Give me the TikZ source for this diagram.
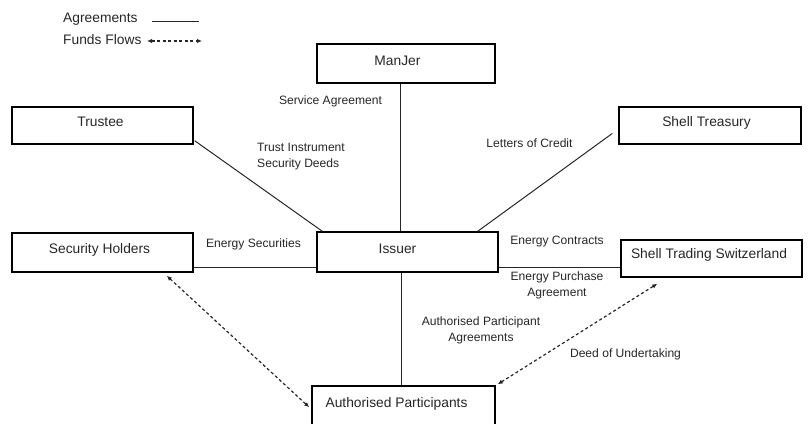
\documentclass[tikz,border=0pt]{standalone}
\usepackage{fontspec}
\setmainfont{Liberation Sans}
\usetikzlibrary{arrows.meta,calc}
\begin{document}
\begin{tikzpicture}[x=1pt,y=-1pt,
  box/.style={draw=black, line width=1.5pt, rectangle, inner sep=0pt},
  btext/.style={anchor=base, inner sep=0pt, font=\fontsize{13.8}{16}\selectfont, text=black!85},
  lbl/.style={anchor=base, inner sep=0pt, font=\fontsize{12.1}{16}\selectfont, text=black!85},
  agr/.style={draw=black!85, line width=1pt},
  flow/.style={draw=black!85, line width=1.2pt, dash pattern=on 3pt off 2.5pt,
    {Latex[length=5pt,width=4.5pt]}-{Latex[length=5pt,width=4.5pt]}}
]
\useasboundingbox (0,0) rectangle (808,423);
\clip (0,0) rectangle (808,423);

% legend
\node[btext, anchor=base west] (lgA) at (63,22.5) {Agreements};
\coordinate (lgA1) at (152,21);
\coordinate (lgA2) at (199,21);
\draw[agr] (lgA1) -- (lgA2);
\node[btext, anchor=base west] (lgF) at (63,44) {Funds Flows};
\coordinate (lgF1) at (147,41);
\coordinate (lgF2) at (202,41);
\draw[flow] (lgF1) -- (lgF2);

% boxes
\node[box, minimum width=178, minimum height=39] (mj) at (406,63.5) {};
\node[box, minimum width=181, minimum height=37] (tr) at (102.5,125.5) {};
\node[box, minimum width=181, minimum height=39] (sh) at (102.5,252.5) {};
\node[box, minimum width=181, minimum height=40] (is) at (407.5,252) {};
\node[box, minimum width=182, minimum height=37] (st) at (710,125.5) {};
\node[box, minimum width=181, minimum height=37] (sts) at (711.5,258.5) {};
\node[box, minimum width=183, minimum height=54] (ap) at (403.5,413) {};

% box texts
\node[btext] (mjT) at (397.5,65) {ManJer};
\node[btext] (trT) at (100.5,126) {Trustee};
\node[btext] (shT) at (99.5,253) {Security Holders};
\node[btext] (isT) at (397.5,253) {Issuer};
\node[btext] (stT) at (706.5,126) {Shell Treasury};
\node[btext] (stsT) at (709,258) {Shell Trading Switzerland};
\node[btext] (apT) at (396.5,407) {Authorised Participants};

% connectors
\coordinate (vx) at (400,0);
\coordinate (vx2) at (401,0);
\draw[agr] (mj.south -| vx) -- (is.north -| vx);
\draw[agr] ($(tr.south east)+(1,-4)$) -- ($(is.north west)+(6,0)$);
\draw[agr] ($(sh.south east)+(0,-5)$) -- ($(is.south west)+(0,-5)$);
\draw[agr] ($(is.north east)+(-21,0)$) -- ($(st.west)+(-6,8)$);
\draw[agr] ($(is.south east)+(0,-5)$) -- ($(sts.south west)+(0,-10)$);
\draw[agr] (is.south -| vx2) -- (ap.north -| vx2);
\draw[flow] ($(sh.south east)+(-27,3)$) -- ($(ap.north west)+(-2,22)$);
\draw[flow] ($(ap.north east)+(2,-1)$) -- ($(sts.south west)+(37,6)$);

% labels
\node[lbl] (l1) at (330.5,104) {Service Agreement};
\node[lbl, anchor=west, align=left] (l2) at (257,157) {Trust Instrument\\Security Deeds};
\node[lbl] (l3) at (253.5,247) {Energy Securities};
\node[lbl] (l4) at (529.5,147) {Letters of Credit};
\node[lbl] (l5) at (557,244) {Energy Contracts};
\node[lbl, anchor=center, align=center] (l6) at (557,285) {Energy Purchase\\Agreement};
\node[lbl, anchor=center, align=center] (l7) at (481,330) {Authorised Participant\\Agreements};
\node[lbl] (l8) at (625.5,357) {Deed of Undertaking};
\end{tikzpicture}
\end{document}
